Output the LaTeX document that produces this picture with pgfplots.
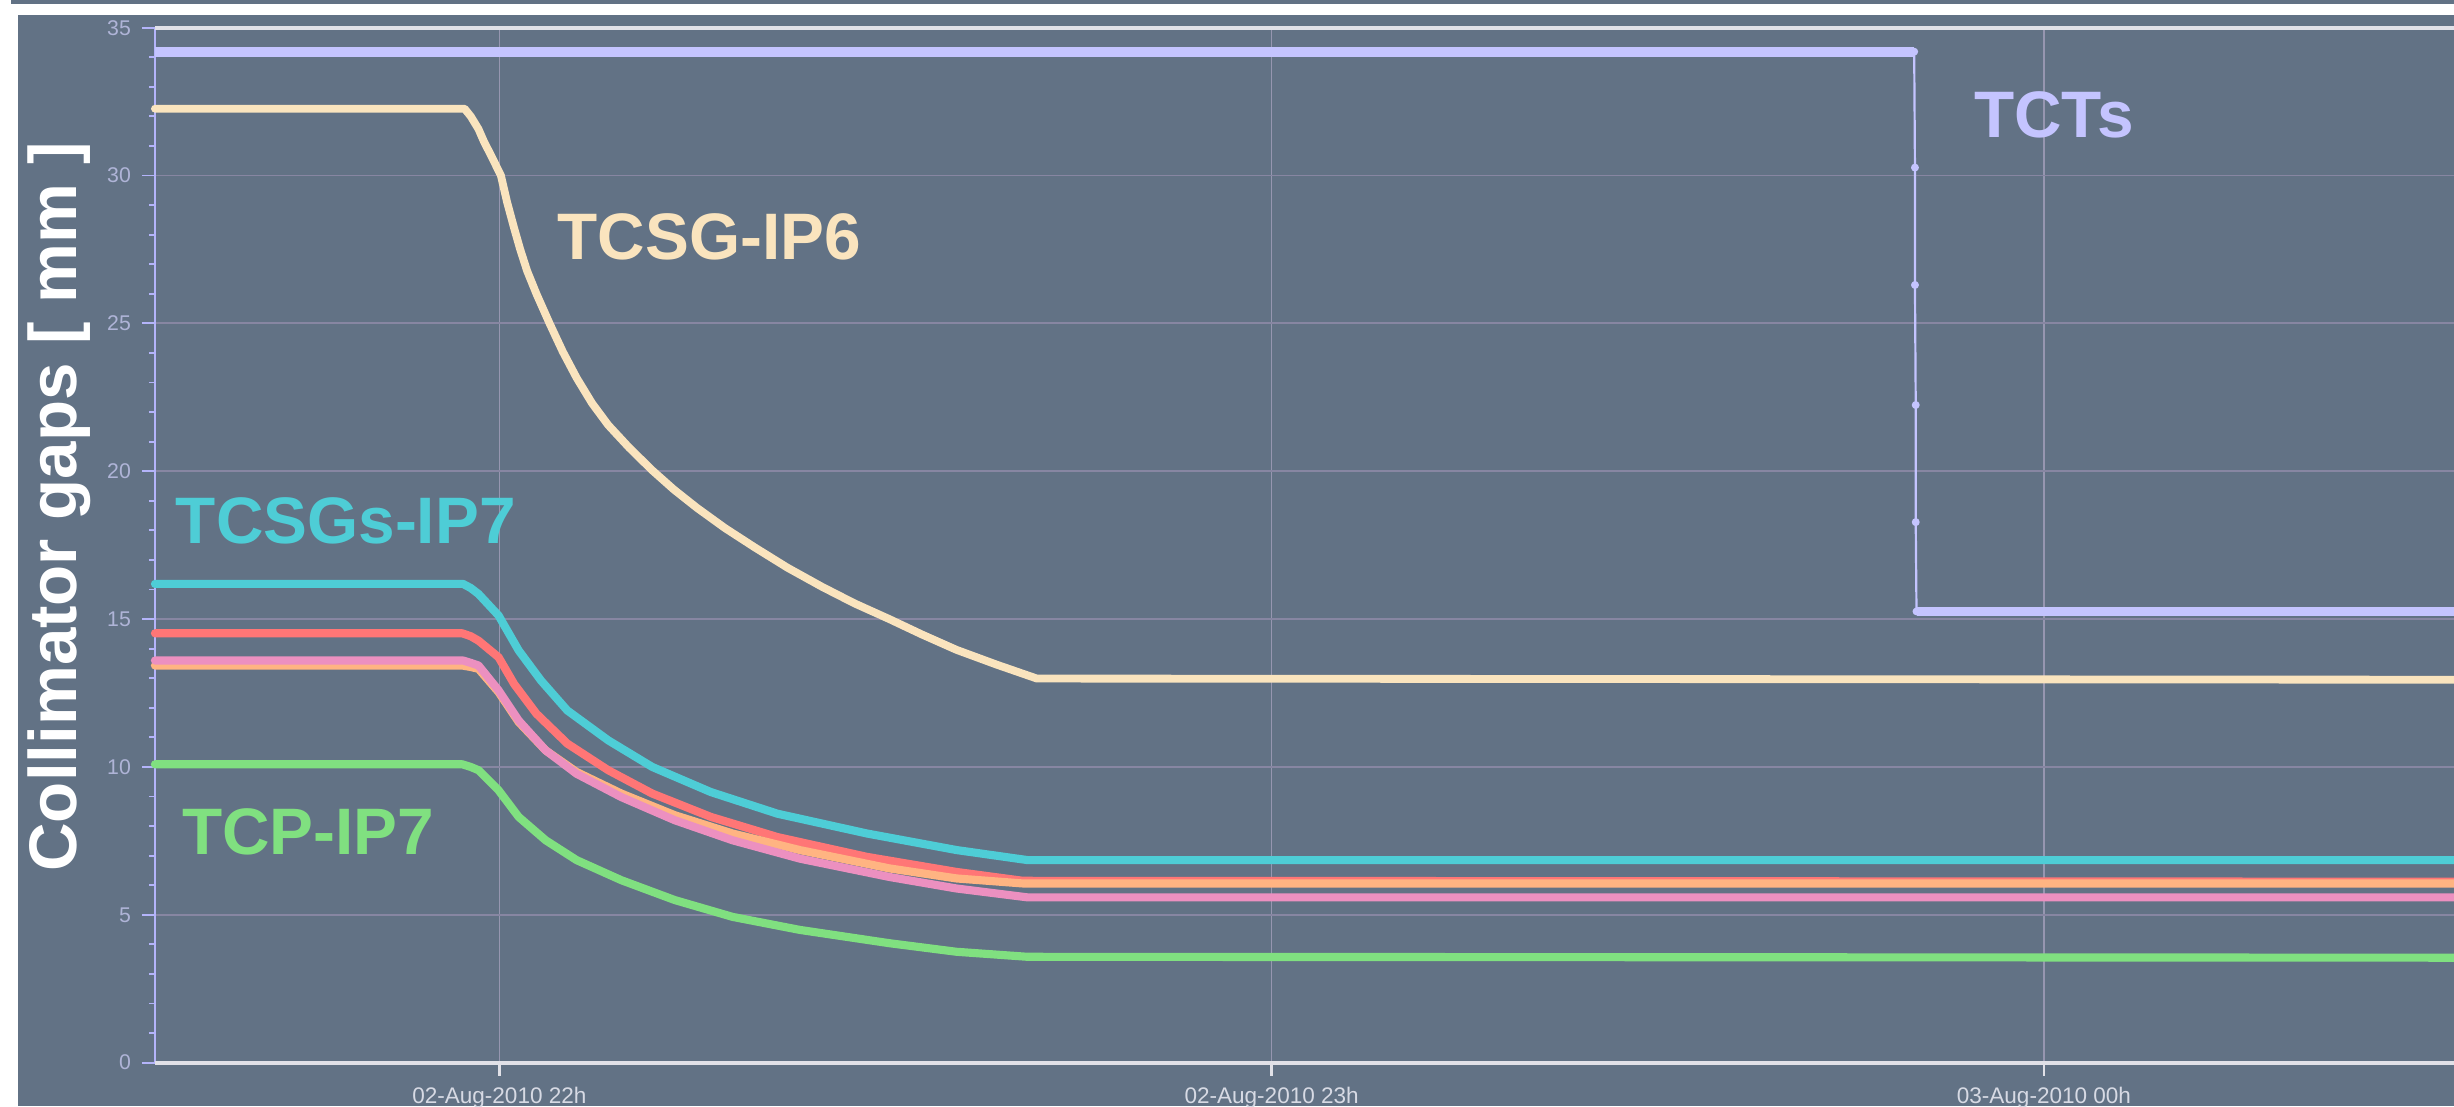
\documentclass[border=0pt]{standalone}
\usepackage{pgfplots}
\pgfplotsset{compat=1.18}
\usepackage{fontspec}
\setmainfont{Liberation Sans}
\setsansfont{Liberation Sans}
\definecolor{slate}{RGB}{98,114,133}
\definecolor{gridc}{RGB}{135,134,162}
\definecolor{vgridc}{RGB}{150,150,176}
\definecolor{lav}{RGB}{180,180,250}
\definecolor{tctc}{RGB}{196,196,255}
\definecolor{ip6}{RGB}{250,228,190}
\definecolor{cyanc}{RGB}{78,205,214}
\definecolor{redc}{RGB}{255,118,118}
\definecolor{orangec}{RGB}{255,180,130}
\definecolor{pinkc}{RGB}{236,144,192}
\definecolor{greenc}{RGB}{128,224,128}
\definecolor{ticklab}{RGB}{175,180,215}
\definecolor{xlab}{RGB}{215,218,228}
\definecolor{axw}{RGB}{225,225,232}
\begin{document}
\begin{tikzpicture}
\useasboundingbox (0,0) rectangle (784pt,353.5pt);
\fill[white] (0,0) rectangle (784pt,353.5pt);
\fill[slate] (3.5pt,352.1pt) rectangle (784pt,353.5pt);
\fill[slate] (5.75pt,0) rectangle (784pt,348.7pt);
\begin{axis}[
  scale only axis, width=734.5pt, height=330.65pt,
  at={(49.5pt,14pt)}, anchor=south west,
  xmin=21.554, xmax=24.531, ymin=0, ymax=35,
  clip=false,
  axis line style={draw=none},
  xtick={22,23,24},
  xticklabels={02-Aug-2010 22h, 02-Aug-2010 23h, 03-Aug-2010 00h},
  ytick={0,5,...,35}, minor y tick num=4,
  xtick pos=bottom, ytick pos=left,
  tick align=outside,
  major tick length=4.15pt, minor tick length=1.9pt,
  ymajorgrids, xmajorgrids,
  y grid style={gridc, line width=0.6pt},
  x grid style={vgridc, line width=0.5pt},
  y tick style={lav, line width=0.6pt},
  x tick style={axw, line width=0.8pt},
  /pgf/number format/assume math mode=true,
  yticklabel style={font=\fontsize{6.8}{7}\selectfont, text=ticklab},
  xticklabel style={font=\fontsize{7.2}{8}\selectfont, text=xlab},
  every axis plot/.append style={line join=round, line cap=round},
]
\draw[lav, line width=0.9pt] (rel axis cs:0,0) -- (rel axis cs:0,1);
\draw[axw, line width=1.3pt] (rel axis cs:0,1) -- (rel axis cs:1,1);
\draw[axw, line width=1.3pt] (rel axis cs:0,0) -- (rel axis cs:1,0);

% TCTs
\addplot[tctc, line width=3.1pt, line cap=butt] coordinates {(21.554,34.19) (23.832,34.19)};
\addplot[tctc, line width=0.7pt, mark=*, mark size=0.9pt, mark options={fill=tctc, draw=tctc}] coordinates {
 (23.832,34.19) (23.833,30.27) (23.833,26.30) (23.834,22.24) (23.834,18.28) (23.835,15.26)};
\addplot[tctc, line width=3.1pt, line cap=butt] coordinates {(23.835,15.26) (24.531,15.26)};

% TCSG-IP6
\addplot[ip6, line width=2.5pt] coordinates {
 (21.554,32.26) (21.955,32.26) (21.963,32.00) (21.973,31.57) (21.980,31.15)
 (21.990,30.64) (22.002,30.00) (22.010,29.10) (22.019,28.23) (22.027,27.50)
 (22.036,26.77) (22.048,26.00) (22.065,25.00) (22.082,24.05) (22.100,23.16)
 (22.120,22.30) (22.141,21.56) (22.168,20.80) (22.198,20.03) (22.226,19.38)
 (22.256,18.76) (22.292,18.08) (22.331,17.42) (22.373,16.74) (22.418,16.09)
 (22.460,15.53) (22.505,15.00) (22.548,14.47) (22.592,13.96) (22.644,13.46)
 (22.696,12.99) (24.531,12.95)};

% red
\addplot[redc, line width=2.6pt] coordinates {
 (21.554,14.52) (21.952,14.52) (21.963,14.42) (21.973,14.27) (21.999,13.71) (22.019,12.81)
 (22.048,11.80) (22.088,10.79) (22.141,9.89) (22.198,9.10) (22.274,8.31)
 (22.360,7.63) (22.476,6.96) (22.592,6.45) (22.678,6.15) (24.531,6.12)};
% orange
\addplot[orangec, line width=2.6pt] coordinates {
 (21.554,13.43) (21.952,13.43) (21.963,13.38) (21.973,13.32) (21.999,12.53) (22.025,11.52)
 (22.060,10.56) (22.100,9.83) (22.158,9.10) (22.227,8.37) (22.302,7.75)
 (22.389,7.19) (22.505,6.57) (22.592,6.23) (22.678,6.06) (24.531,6.06)};
% pink
\addplot[pinkc, line width=2.6pt] coordinates {
 (21.554,13.6) (21.953,13.6) (21.963,13.52) (21.973,13.43) (21.999,12.59) (22.025,11.57)
 (22.060,10.56) (22.100,9.77) (22.158,8.98) (22.227,8.20) (22.302,7.52)
 (22.389,6.90) (22.505,6.28) (22.592,5.89) (22.684,5.59) (24.531,5.59)};
% cyan
\addplot[cyanc, line width=2.6pt] coordinates {
 (21.554,16.19) (21.953,16.19) (21.963,16.05) (21.973,15.85) (21.999,15.12) (22.025,13.94)
 (22.054,12.92) (22.088,11.91) (22.141,10.90) (22.198,10.00) (22.274,9.15)
 (22.360,8.42) (22.476,7.75) (22.592,7.19) (22.684,6.85) (24.531,6.85)};
% green
\addplot[greenc, line width=2.6pt] coordinates {
 (21.554,10.09) (21.952,10.09) (21.963,10.00) (21.973,9.89) (21.999,9.21) (22.025,8.31)
 (22.060,7.52) (22.100,6.85) (22.158,6.17) (22.227,5.50) (22.302,4.93)
 (22.389,4.49) (22.505,4.04) (22.592,3.75) (22.684,3.58) (24.531,3.55)};
\end{axis}
\node[rotate=90, anchor=base, inner sep=0pt, text=white, font=\fontsize{21.5}{25}\selectfont\bfseries] at (24.5pt,191.5pt) {Collimator gaps [ mm ]};
\node[anchor=base west, inner sep=0pt, text=ip6, font=\fontsize{21}{25}\selectfont\bfseries] at (178pt,270.5pt) {TCSG-IP6};
\node[anchor=base west, inner sep=0pt, text=tctc, font=\fontsize{21}{25}\selectfont\bfseries] at (630.5pt,309.5pt) {TCTs};
\node[anchor=base west, inner sep=0pt, text=cyanc, font=\fontsize{21}{25}\selectfont\bfseries] at (56pt,180pt) {TCSGs-IP7};
\node[anchor=base west, inner sep=0pt, text=greenc, font=\fontsize{21}{25}\selectfont\bfseries] at (58pt,80.5pt) {TCP-IP7};
\end{tikzpicture}
\end{document}
